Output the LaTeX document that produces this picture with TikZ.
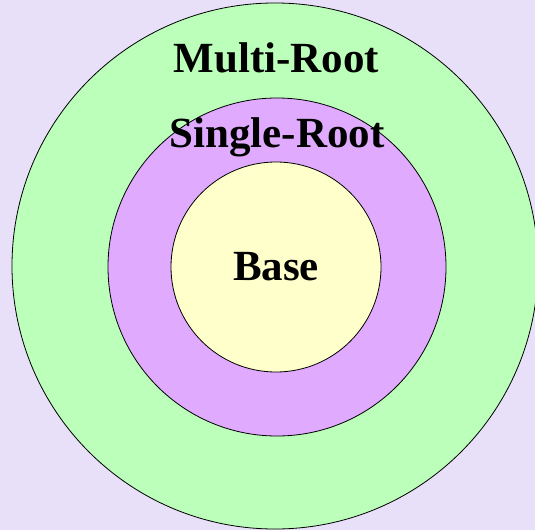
\documentclass[tikz,border=0pt]{standalone}
\usepackage{fontspec}
\setmainfont{Liberation Serif}
\definecolor{lavbg}{RGB}{232,224,248}
\definecolor{multigreen}{RGB}{187,255,187}
\definecolor{singlepurple}{RGB}{224,170,255}
\definecolor{baseyellow}{RGB}{255,255,204}
\tikzset{
  ring/.style={draw=black, line width=0.8bp},
  lab/.style={anchor=base, inner sep=0pt, font=\fontsize{43bp}{48bp}\selectfont\bfseries}
}
\begin{document}
\begin{tikzpicture}[x=1bp, y=-1bp]
        \useasboundingbox (0,0) rectangle (535,530);
        \clip (0,0) rectangle (535,530);
        \fill [lavbg] (0,0) rectangle (535,530);
        \draw [ring, fill=multigreen] (275,266) circle (263bp);
        \draw [ring, fill=singlepurple] (277,267) circle (169bp);
        \draw [ring, fill=baseyellow] (276,267) circle (105bp);
        \node [lab] (multi) at (276.5,73) {Multi-Root};
        \node [lab] (single) at (277,148) {Single-Root};
        \node [lab] (base) at (276,280) {Base};
    \end{tikzpicture}
\end{document}
